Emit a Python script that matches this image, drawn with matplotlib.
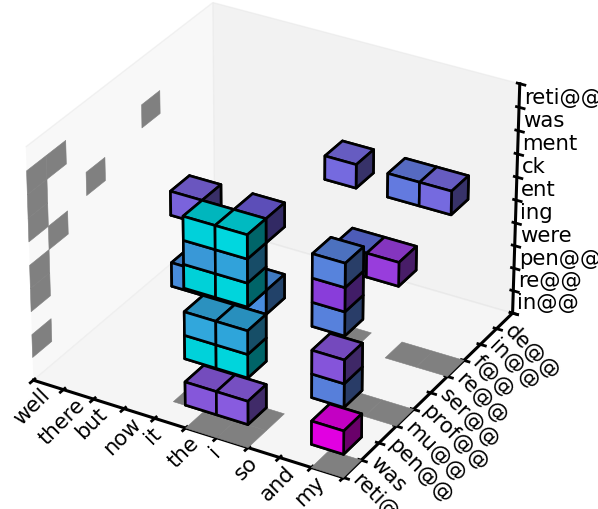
import numpy as np
import matplotlib
matplotlib.use('Agg')
import matplotlib.pyplot as plt
from mpl_toolkits.mplot3d.art3d import Poly3DCollection

x_labels = ['well', 'there', 'but', 'now', 'it', 'the', 'i', 'so', 'and', 'my']
y_labels = ['reti@@', 'was', 'pen@@', 'mu@@', 'prof@@', 'ser@@', 're@@', 'f@@', 'in@@', 'de@@']
z_labels = ['in@@', 're@@', 'pen@@', 'were', 'ing', 'ent', 'ck', 'ment', 'was', 'reti@@']

# filled cells
cell_x = [5, 6, 9, 5, 6, 9, 5, 6, 9, 4, 6, 5, 6, 9, 8, 9, 5, 6, 9, 6, 8, 9, 5, 6, 9, 4, 6]
cell_y = [0, 0, 0, 0, 0, 0, 0, 0, 0, 1, 1, 0, 0, 0, 3, 3, 0, 0, 0, 6, 6, 6, 0, 0, 0, 1, 1]
cell_z = [1, 1, 1, 3, 3, 3, 4, 4, 4, 5, 5, 6, 6, 6, 6, 6, 7, 7, 7, 7, 7, 7, 8, 8, 8, 8, 8]
cell_c = ['#9763f7', '#9a67fc', '#ff00ff',
          '#00eef7', '#00f1f9', '#6390f7',
          '#38bdf9', '#34bbf7', '#975ff7',
          '#529ff7', '#529ffc',
          '#00edf5', '#00f1f9', '#6392f9', '#6578f0', '#ac45f9',
          '#41acf3', '#38b7f7', '#9b45f7', '#8578fc', '#708afc', '#8578fc',
          '#00edf7', '#00f3fc', '#6394f9', '#8a70f9', '#7866f0']

fig = plt.figure(figsize=(5.98, 5.10), dpi=100)
ax = fig.add_axes([-0.05, 0.029, 1.0, 1.0], projection='3d', computed_zorder=False)
ax.set_proj_type('persp', focal_length=1.6)

filled = np.zeros((10, 10, 10), dtype=bool)
colors = np.empty((10, 10, 10), dtype=object)
for x, y, z, c in zip(cell_x, cell_y, cell_z, cell_c):
    filled[x, y, z] = True
    colors[x, y, z] = c
polys = ax.voxels(filled, facecolors=colors, edgecolor='k', linewidth=1.9)
# draw far cubes first
for (x, y, z), poly in polys.items():
    poly.set_zorder(10 + 0.43 * x - 0.75 * y + 0.5 * z)

# gray shadows on the floor and on the left wall
floor = sorted(set(zip(cell_x, cell_y)))
wall = sorted(set(zip(cell_y, cell_z)))
floor_faces = [[(x, y, 0), (x + 1, y, 0), (x + 1, y + 1, 0), (x, y + 1, 0)] for x, y in floor]
wall_faces = [[(0, y, z), (0, y + 1, z), (0, y + 1, z + 1), (0, y, z + 1)] for y, z in wall]
shadow = Poly3DCollection(floor_faces + wall_faces, facecolors='#808080', edgecolors='#808080',
                          linewidths=0.4, zorder=1)
ax.add_collection3d(shadow)

ax.set_xlim(0, 10)
ax.set_ylim(0, 10)
ax.set_zlim(0, 10)
ax.set_box_aspect((4, 4, 3), zoom=1.085)
ax.grid(False)

ax.set_xticks(np.arange(11))
ax.set_xticklabels(x_labels + [''], rotation=45, ha='center', va='top', fontsize=15.3)
ax.set_yticks(np.arange(11))
ax.set_yticklabels(y_labels + [''], rotation=-45, ha='left', va='bottom',
                   rotation_mode='anchor', fontsize=15.3)
ax.set_zticks(np.arange(11))
ax.set_zticklabels(z_labels + [''], va='bottom', ha='left', fontsize=15.3)
ax.tick_params(axis='x', pad=-6)
ax.tick_params(axis='y', pad=-5)
ax.tick_params(axis='z', pad=-6)

for axis in (ax.xaxis, ax.yaxis, ax.zaxis):
    axis.line.set_color('k')
    axis.line.set_linewidth(2.2)
    axis.pane.set_edgecolor((0.9, 0.9, 0.9, 0.3))
    axis._axinfo['tick']['linewidth'] = {True: 2, False: 1}
    axis._axinfo['tick']['color'] = 'k'

fig.savefig('out.png', dpi=100)
